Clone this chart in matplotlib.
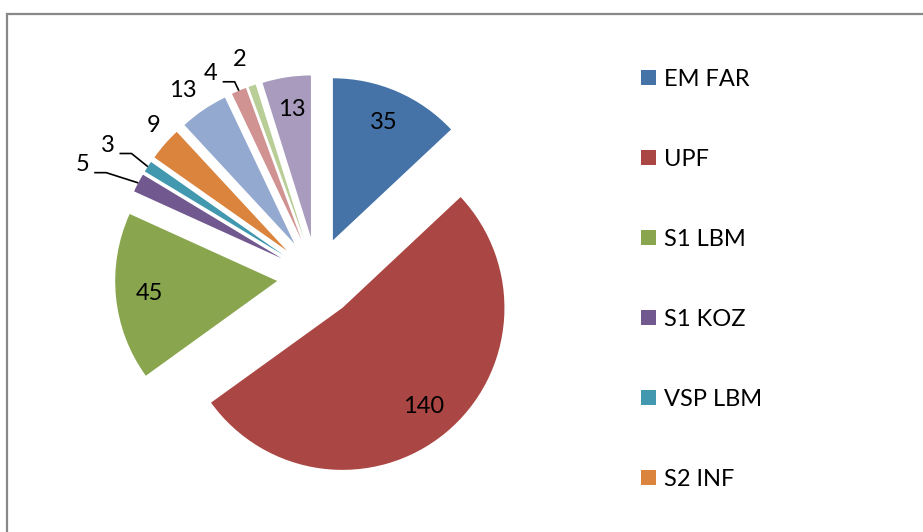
import numpy as np
import matplotlib
matplotlib.use("Agg")
import matplotlib.pyplot as plt
from matplotlib.patches import Rectangle

plt.rcParams['font.family'] = ['Lato', 'DejaVu Sans']

# legend names visible in the chart (the legend is cut off after six entries)
categories = ['EM FAR', 'UPF', 'S1 LBM', 'S1 KOZ', 'VSP LBM', 'S2 INF']
values = [35, 140, 45, 5, 3, 9, 13, 4, 2, 13]
colors = ['#4572A7', '#AA4643', '#89A54E', '#71588F', '#4198AF',
          '#DB843D', '#93A9CF', '#D19392', '#B9CD96', '#A99BBD']

# label placement (fraction of radius, angle shift in degrees), leader lines
label_r = [0.79, 0.79, 0.79, 1.36, 1.28, 1.13, 1.17, 1.17, 1.18, 0.80]
label_shift = [0, 0, 0, 2.6, 1.2, -2.2, 1.9, 5.9, 0.9, 0]
leaders = [3, 4, 7]

W, H = 923, 532
fig = plt.figure(figsize=(W / 100, H / 100), dpi=100)
ax = fig.add_axes([0, 0, 1, 1])

radius = 162
wedges, _ = ax.pie(values, colors=colors, startangle=90, counterclock=False,
                   explode=[40] * len(values), radius=radius,
                   center=(317, H - 277), frame=True)
ax.set_xlim(0, W)
ax.set_ylim(0, H)
ax.axis('off')

for i, w in enumerate(wedges):
    tm = np.deg2rad((w.theta1 + w.theta2) / 2)
    ta = tm + np.deg2rad(label_shift[i])
    cx, cy = w.center
    tx = cx + label_r[i] * w.r * np.cos(ta)
    ty = cy + label_r[i] * w.r * np.sin(ta)
    ax.text(tx, ty, str(values[i]), ha='center', va='center',
            fontsize=17, color='black')
    if i in leaders:
        ex = cx + w.r * np.cos(tm)
        ey = cy + w.r * np.sin(tm)
        ax.plot([tx + 12, tx + 24, ex], [ty - 8, ty - 8, ey],
                color='black', lw=1.2, solid_capstyle='butt')

# chart area border
ax.add_patch(Rectangle((7, -10), W + 20, H - 14 + 10, fill=False,
                       edgecolor='#888888', lw=1.6, clip_on=False))

leg = ax.legend(wedges[:len(categories)], categories, loc='upper left',
                bbox_to_anchor=(629 / W, 1 - 57 / H), frameon=False,
                fontsize=17, handlelength=0.64, handleheight=0.64,
                handletextpad=0.35, labelspacing=2.5, borderpad=0)

fig.savefig('out.png', dpi=100)
